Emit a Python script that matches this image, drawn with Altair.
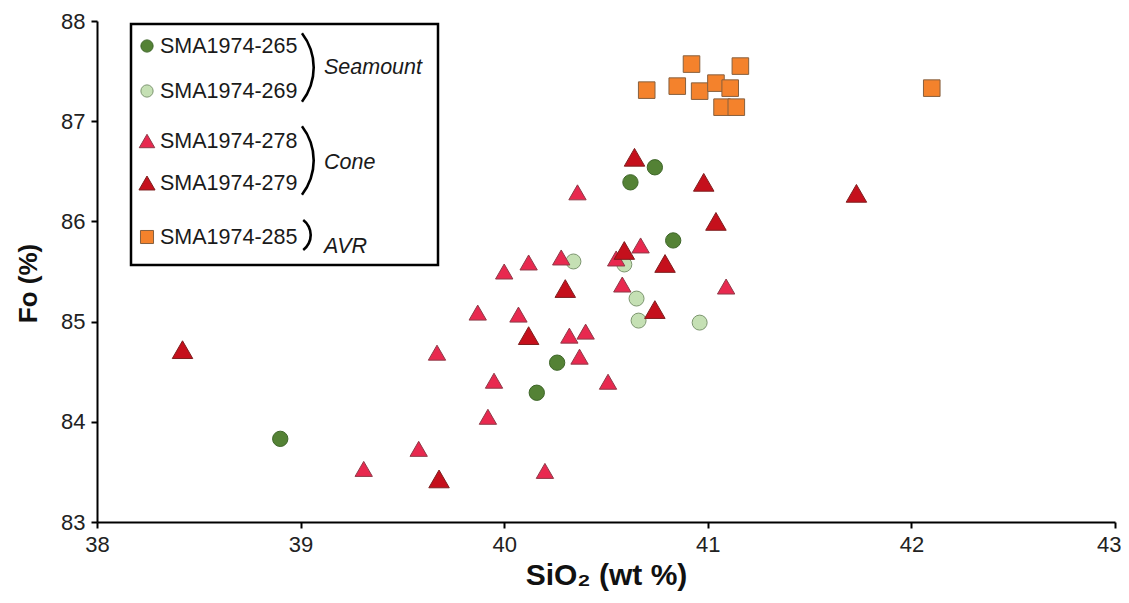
import altair as alt
import pandas as pd
import math

# ---- data ----
s265_x = [38.90, 40.16, 40.26, 40.62, 40.74, 40.83]
s265_y = [83.83, 84.29, 84.59, 86.39, 86.54, 85.81]

s269_x = [40.34, 40.59, 40.65, 40.66, 40.96]
s269_y = [85.60, 85.57, 85.23, 85.01, 84.99]

s278_x = [40.36, 40.00, 40.12, 40.28, 40.55, 40.67, 41.09, 40.58, 39.87, 40.07,
          40.32, 40.40, 40.37, 39.95, 40.51, 39.92, 40.20, 39.58, 39.31, 39.67]
s278_y = [86.29, 85.50, 85.59, 85.64, 85.63, 85.76, 85.35, 85.37, 85.09, 85.07,
          84.86, 84.90, 84.65, 84.41, 84.40, 84.05, 83.51, 83.73, 83.53, 84.69]

s279_x = [40.64, 40.98, 41.73, 41.04, 40.59, 40.79, 40.30, 40.74, 40.12, 39.68, 38.42]
s279_y = [86.64, 86.39, 86.28, 86.00, 85.71, 85.58, 85.33, 85.12, 84.86, 83.43, 84.72]

s285_x = [40.70, 40.85, 40.92, 40.96, 41.04, 41.07, 41.11, 41.14, 41.16, 42.10]
s285_y = [87.31, 87.35, 87.57, 87.30, 87.38, 87.14, 87.33, 87.14, 87.55, 87.33]

x_ticks = [38, 39, 40, 41, 42, 43]
y_ticks = [83, 84, 85, 86, 87, 88]

samples = ["SMA1974-265", "SMA1974-269", "SMA1974-278", "SMA1974-279", "SMA1974-285"]
groups = ["Seamount", "Cone", "AVR"]

# ---- styles ----
styles = {
    "SMA1974-265": dict(shape="circle", fill="#548235", stroke="#3e6629", size=235, lsize=150),
    "SMA1974-269": dict(shape="circle", fill="#C5E0B4", stroke="#7d9670", size=225, lsize=150),
    "SMA1974-278": dict(shape="triangle-up", fill="#E8294F", stroke="#8e3a48", size=300, lsize=240),
    "SMA1974-279": dict(shape="triangle-up", fill="#C5101C", stroke="#7e1f1f", size=420, lsize=260),
    "SMA1974-285": dict(shape="square", fill="#F4822C", stroke="#86603f", size=275, lsize=170),
}

series = {
    "SMA1974-265": (s265_x, s265_y),
    "SMA1974-269": (s269_x, s269_y),
    "SMA1974-278": (s278_x, s278_y),
    "SMA1974-279": (s279_x, s279_y),
    "SMA1974-285": (s285_x, s285_y),
}

FONT = "Liberation Sans"
W, H = 1018, 501

xs = alt.Scale(domain=[38, 43], nice=False, zero=False)
ys = alt.Scale(domain=[83, 88], nice=False, zero=False)

x_axis = alt.Axis(values=x_ticks, title="SiO₂ (wt %)", format="d",
                  titleY=53, titleBaseline="middle", labelPadding=6,
                  titleFontSize=30, labelFlush=False,
                  labelAlign=alt.ExprRef(expr="datum.value == 43 ? 'right' : 'center'"),
                  labelOffset=alt.ExprRef(expr="datum.value == 43 ? 6 : 0"))
y_axis = alt.Axis(values=y_ticks, title="Fo (%)", format="d",
                  titleX=-69, titleY=262, titleAngle=-90, titleBaseline="middle",
                  titleAlign="center", labelPadding=6)

layers = []
first = True
for name in samples:
    sx, sy = series[name]
    st = styles[name]
    df = pd.DataFrame({"x": sx, "y": sy})
    if first:
        enc = dict(x=alt.X("x:Q", scale=xs, axis=x_axis), y=alt.Y("y:Q", scale=ys, axis=y_axis))
        first = False
    else:
        enc = dict(x=alt.X("x:Q", scale=xs), y=alt.Y("y:Q", scale=ys))
    layers.append(
        alt.Chart(df).mark_point(shape=st["shape"], filled=True, fill=st["fill"],
                                 stroke=st["stroke"], strokeWidth=1, size=st["size"],
                                 opacity=1).encode(**enc)
    )

one = pd.DataFrame({"a": [0]})

# ---- legend (layout in plot pixels) ----
box = alt.Chart(one).mark_rect(fill="white", stroke="black", strokeWidth=2.5).encode(
    x=alt.value(34), x2=alt.value(341), y=alt.value(3), y2=alt.value(244))
layers.append(box)

row_y = [25, 70, 120, 162, 216]
for name, ry in zip(samples, row_y):
    st = styles[name]
    layers.append(alt.Chart(one).mark_point(shape=st["shape"], filled=True, fill=st["fill"],
                                            stroke=st["stroke"], strokeWidth=1, size=st["lsize"],
                                            opacity=1).encode(x=alt.value(50), y=alt.value(ry)))
    layers.append(alt.Chart(pd.DataFrame({"t": [name]})).mark_text(
        align="left", baseline="middle", font=FONT, fontSize=21.5, color="#1a1a1a").encode(
        x=alt.value(63), y=alt.value(ry + 1), text="t:N"))

# brackets: (center y, right x, half height, bulge)
brackets = [(46.5, 218, 35, 12), (139.5, 218, 35, 12), (214, 215, 16, 8)]
for cy, rx, hh, bulge in brackets:
    R = (hh * hh + bulge * bulge) / (2 * bulge)
    a = math.asin(min(1.0, hh / R))
    layers.append(alt.Chart(one).mark_arc(
        theta=math.pi / 2 - a, theta2=math.pi / 2 + a, radius=R, radius2=R - 2.6,
        color="black").encode(x=alt.value(rx - R), y=alt.value(cy)))

group_y = [47, 142, 226]
for g, gy in zip(groups, group_y):
    layers.append(alt.Chart(pd.DataFrame({"t": [g]})).mark_text(
        align="left", baseline="middle", font=FONT, fontSize=21.5, fontStyle="italic",
        color="#1a1a1a").encode(x=alt.value(227), y=alt.value(gy), text="t:N"))

chart = alt.layer(*layers).properties(
    width=W, height=H,
    autosize=alt.AutoSizeParams(type="none"),
    padding={"left": 89, "top": 13, "right": 6, "bottom": 73},
).configure_view(stroke=None).configure_axis(
    grid=False, domainColor="black", domainWidth=2, tickColor="black", tickWidth=2,
    tickSize=6, labelFont=FONT, labelFontSize=22, labelColor="#222222",
    titleFont=FONT, titleFontSize=26, titleFontWeight="bold", titleColor="#111111",
)

chart.save("out.html", embed_options={"renderer": "svg", "actions": False})
